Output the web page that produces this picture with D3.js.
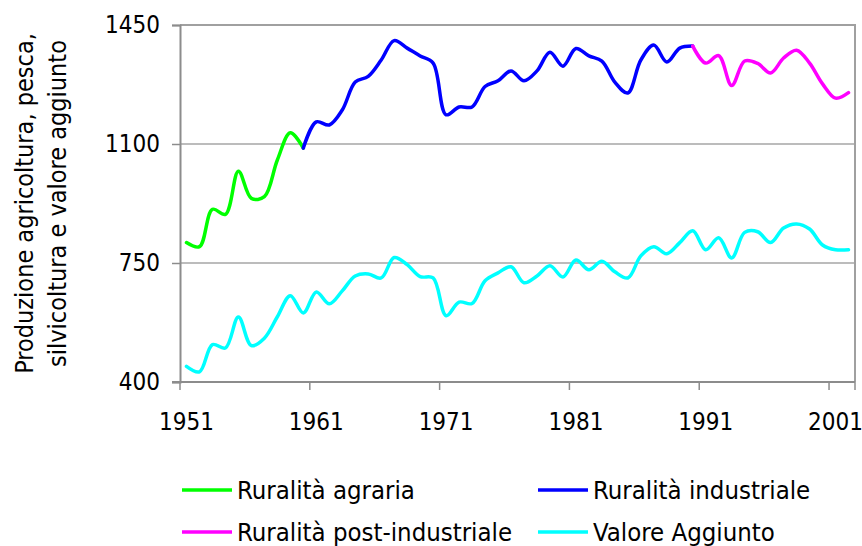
<!DOCTYPE html>
<html>
<head>
<meta charset="utf-8">
<style>
  body { margin: 0; background: #fff; }
  text { font-family: "DejaVu Sans Condensed", "DejaVu Sans", sans-serif; fill: #000; }
</style>
</head>
<body>
<svg width="862" height="546"></svg>
<script src="https://d3js.org/d3.v7.min.js"></script>
<script>
    // years on the category axis
    var years = d3.range(1951, 2003);
    var tickYears = [1951, 1961, 1971, 1981, 1991, 2001];
    var yTicks = [400, 750, 1100, 1450];

    // Ruralità agraria 1951-1960
    var agrariaYears = d3.range(1951, 1961);
    var agraria = [810, 798, 908, 893, 1020, 940, 945, 1053, 1133, 1088];

    // Ruralità industriale 1960-1990
    var industrialeYears = d3.range(1960, 1991);
    var industriale = [1088, 1165, 1156, 1200, 1282, 1299, 1347, 1404, 1382, 1359,
        1338, 1186, 1209, 1209, 1269, 1286, 1315, 1286, 1315, 1370,
        1329, 1381, 1359, 1344, 1282, 1250, 1347, 1391, 1341, 1382, 1388];

    // Ruralità post-industriale 1990-2002
    var postYears = d3.range(1990, 2003);
    var postIndustriale = [1388, 1338, 1360, 1272, 1344, 1337, 1309, 1353, 1376, 1338, 1277, 1235, 1251];

    // Valore Aggiunto 1951-2002
    var valoreAggiunto = [446, 430, 510, 500, 591, 507, 529, 592, 654, 603,
        665, 630, 668, 712, 718, 706, 766, 745, 710, 706,
        595, 635, 631, 698, 721, 739, 692, 712, 742, 709,
        759, 730, 755, 724, 706, 771, 798, 777, 810, 845,
        789, 824, 765, 840, 842, 810, 853, 865, 850, 803,
        789, 789];

    var seriesNames = ["Ruralità agraria", "Ruralità industriale", "Ruralità post-industriale", "Valore Aggiunto"];
    var seriesColors = ["#00ff00", "#0000ff", "#ff00ff", "#00ffff"];

    var svg = d3.select("svg"),
        pLeft = 180, pRight = 855, pTop = 25, pBottom = 382;

    var x = d3.scalePoint().domain(years).range([pLeft, pRight]).padding(0.5),
        y = d3.scaleLinear().domain([400, 1450]).range([pBottom, pTop]);
    var step = x.step();

    // gridlines
    svg.append("g")
        .selectAll("line")
        .data([750, 1100])
        .enter().append("line")
        .attr("x1", pLeft).attr("x2", pRight)
        .attr("y1", function (d) { return y(d); })
        .attr("y2", function (d) { return y(d); })
        .attr("stroke", "#a6a6a6")
        .attr("stroke-width", 1.5);

    // plot frame top / right
    svg.append("path")
        .attr("d", "M" + pLeft + "," + pTop + "H" + pRight + "V" + pBottom)
        .attr("fill", "none")
        .attr("stroke", "#a0a0a0")
        .attr("stroke-width", 2);

    // y axis
    var yAxis = svg.append("g")
        .attr("transform", "translate(" + pLeft + ",0)")
        .call(d3.axisLeft(y).tickValues(yTicks).tickSize(8).tickPadding(12).tickFormat(d3.format("d")));
    yAxis.select(".domain").attr("stroke", "#8c8c8c").attr("stroke-width", 2);
    yAxis.selectAll(".tick line").attr("stroke", "#8c8c8c").attr("stroke-width", 1.5);
    yAxis.selectAll(".tick text").style("font-size", "24px").attr("fill", "#000");

    // x axis: ticks between categories, labels under categories
    var xg = svg.append("g");
    xg.append("line")
        .attr("x1", pLeft - 8).attr("x2", pRight)
        .attr("y1", pBottom).attr("y2", pBottom)
        .attr("stroke", "#8c8c8c").attr("stroke-width", 2);
    xg.selectAll(".xt")
        .data(tickYears.concat([2002]))
        .enter().append("line")
        .attr("x1", function (d) { return d == 2002 ? pRight : x(d) - step / 2; })
        .attr("x2", function (d) { return d == 2002 ? pRight : x(d) - step / 2; })
        .attr("y1", pBottom).attr("y2", pBottom + 8)
        .attr("stroke", "#8c8c8c").attr("stroke-width", 1.5);
    xg.selectAll(".xl")
        .data(tickYears)
        .enter().append("text")
        .attr("x", function (d) { return x(d); })
        .attr("y", 422)
        .attr("dy", "0.35em")
        .style("font-size", "24px")
        .style("text-anchor", "middle")
        .text(function (d) { return d; });

    // y title
    var yt = svg.append("text")
        .attr("transform", "translate(0," + ((pTop + pBottom) / 2) + ") rotate(-90)")
        .style("font-size", "25px")
        .style("text-anchor", "middle");
    yt.append("tspan").attr("x", 0).attr("y", 33).text("Produzione agricoltura, pesca,");
    yt.append("tspan").attr("x", 0).attr("y", 66).text("silvicoltura e valore aggiunto");

    var line = d3.line()
        .curve(d3.curveCatmullRom.alpha(0.5))
        .x(function (d) { return x(d.year); })
        .y(function (d) { return y(d.v); });

    function zipData(yy, vv) {
        return yy.map(function (yr, i) { return { year: yr, v: vv[i] }; });
    }

    var lines = [
        zipData(agrariaYears, agraria),
        zipData(industrialeYears, industriale),
        zipData(postYears, postIndustriale),
        zipData(years, valoreAggiunto)
    ];

    svg.append("g")
        .selectAll("path")
        .data(lines)
        .enter().append("path")
        .attr("d", line)
        .attr("fill", "none")
        .attr("stroke", function (d, i) { return seriesColors[i]; })
        .attr("stroke-width", 3.5)
        .attr("stroke-linejoin", "round")
        .attr("stroke-linecap", "round");

    // legend
    var legPos = [[182, 490], [538, 490], [182, 532], [538, 532]];
    var leg = svg.append("g")
        .selectAll("g")
        .data(seriesNames)
        .enter().append("g")
        .attr("transform", function (d, i) { return "translate(" + legPos[i][0] + "," + legPos[i][1] + ")"; });
    leg.append("line")
        .attr("x1", 0).attr("x2", 50)
        .attr("stroke", function (d, i) { return seriesColors[i]; })
        .attr("stroke-width", 3.5);
    leg.append("text")
        .attr("x", 55)
        .attr("dy", "0.35em")
        .style("font-size", "25.5px")
        .text(function (d) { return d; });
</script>
</body>
</html>
